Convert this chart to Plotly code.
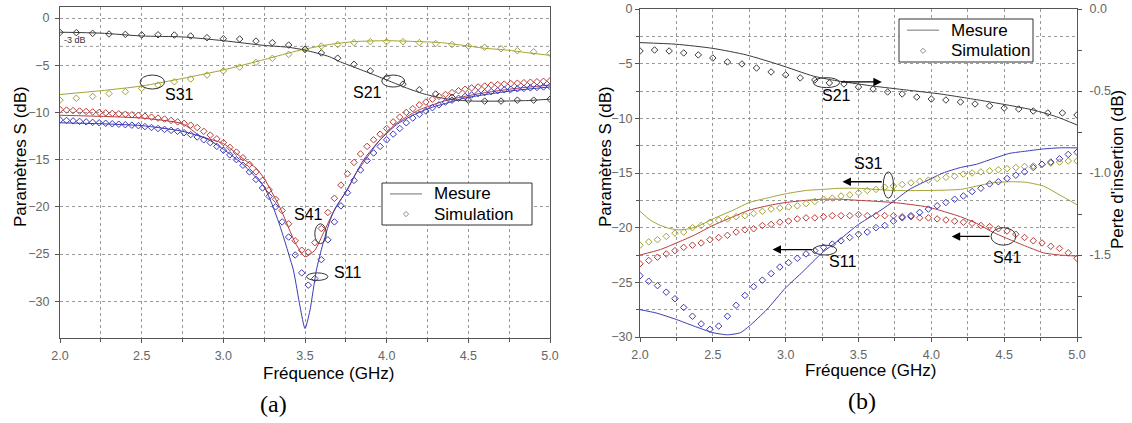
import numpy as np
import plotly.graph_objects as go

# ---------------- (a) data ----------------
fa_s11_meas = [2.0, 2.25, 2.5, 2.75, 2.9, 3.0, 3.12, 3.25, 3.3, 3.35, 3.4, 3.43, 3.47, 3.5, 3.53, 3.57, 3.61, 3.67, 3.76, 3.86, 3.96, 4.06, 4.16, 4.27, 4.37, 4.47, 4.57, 4.77, 5.0]
s11a_meas = [-11.1, -11.2, -11.4, -12.0, -12.8, -13.9, -15.5, -17.9, -19.8, -22.2, -25.0, -26.8, -30.6, -32.9, -31.0, -26.7, -23.9, -20.7, -18.1, -15.0, -12.9, -11.3, -10.3, -9.5, -9.0, -8.5, -8.2, -7.7, -7.3]

fa_s41_meas = [2.0, 2.5, 2.75, 2.86, 3.0, 3.12, 3.2, 3.25, 3.35, 3.44, 3.5, 3.56, 3.62, 3.69, 3.76, 3.81, 3.85, 3.95, 4.05, 4.19, 4.37, 4.57, 4.77, 5.0]
s41a_meas = [-10.3, -10.6, -11.2, -12.5, -13.3, -14.9, -15.9, -17.0, -20.2, -23.8, -25.3, -24.6, -22.5, -20.0, -18.2, -16.5, -15.5, -13.1, -11.3, -9.8, -8.7, -8.0, -7.5, -7.1]

fa_s21_meas = [2.0, 2.25, 2.5, 2.75, 3.0, 3.25, 3.4, 3.5, 3.65, 3.71, 3.8, 3.92, 4.02, 4.12, 4.22, 4.33, 4.43, 4.53, 4.7, 4.85, 5.0]
s21a_meas = [-1.5, -1.6, -1.9, -2.0, -2.4, -2.9, -3.1, -3.4, -4.1, -4.6, -5.2, -6.0, -6.7, -7.4, -8.0, -8.45, -8.7, -8.8, -8.8, -8.75, -8.6]

fa_s31_meas = [2.0, 2.25, 2.5, 2.75, 3.0, 3.25, 3.47, 3.65, 3.8, 4.0, 4.2, 4.33, 4.45, 4.6, 4.74, 4.85, 5.0]
s31a_meas = [-8.1, -7.7, -7.2, -6.4, -5.5, -4.4, -3.4, -2.8, -2.5, -2.4, -2.5, -2.6, -2.85, -3.2, -3.4, -3.65, -3.95]

fa_sim_coarse = np.round(np.linspace(2.0, 5.0, 31), 2)
s21a_sim = [-1.52, -1.55, -1.62, -1.69, -1.73, -1.8, -1.77, -1.8, -1.9, -2.08, -2.19, -2.22, -2.44, -2.61, -2.86, -3.3, -3.7, -4.25, -4.9, -5.6, -6.3, -7.0, -7.6, -8.05, -8.4, -8.7, -8.8, -8.8, -8.7, -8.7, -8.6]
s31a_sim = [-8.7, -8.5, -8.3, -8.0, -7.8, -7.45, -7.1, -6.75, -6.46, -6.04, -5.6, -5.2, -4.7, -4.27, -3.85, -3.35, -2.97, -2.8, -2.6, -2.5, -2.5, -2.5, -2.6, -2.7, -2.8, -2.97, -3.1, -3.25, -3.46, -3.57, -3.74]

fa_sim_fine = np.round(np.linspace(2.0, 5.0, 76), 2)
s41a_sim = [-9.7, -9.75, -9.8, -9.85, -9.9, -9.95, -10.0, -10.05, -10.1, -10.15, -10.2, -10.25, -10.3, -10.4, -10.5, -10.6, -10.7, -10.85, -11.0, -11.15,
            -11.35, -11.6, -12.0, -12.4, -12.8, -13.2, -13.7, -14.2, -14.8, -15.5, -16.3, -17.2, -18.2, -19.2, -20.4, -21.8, -23.6, -24.6, -24.8, -23.8,
            -22.3, -20.6, -19.1, -17.7, -16.5, -15.3, -14.4, -13.6, -12.9, -12.3, -11.7, -11.0, -10.5, -10.0, -9.6, -9.2, -8.9, -8.6, -8.3, -8.1,
            -7.9, -7.7, -7.55, -7.4, -7.3, -7.2, -7.1, -7.05, -7.0, -6.95, -6.9, -6.85, -6.8, -6.75, -6.7, -6.65]
s11a_sim = [-10.8, -10.85, -10.9, -10.95, -11.0, -11.05, -11.1, -11.15, -11.2, -11.25, -11.3, -11.35, -11.4, -11.5, -11.6, -11.7, -11.8, -11.9, -12.0, -12.15,
            -12.35, -12.6, -12.9, -13.2, -13.6, -14.0, -14.5, -15.0, -15.6, -16.3, -17.1, -18.0, -18.9, -20.0, -21.6, -23.2, -25.1, -27.0, -28.3, -27.6,
            -25.6, -23.5, -21.6, -19.9, -18.5, -17.2, -16.1, -15.1, -14.3, -13.6, -12.9, -12.3, -11.7, -11.1, -10.6, -10.2, -9.85, -9.5, -9.2, -8.9,
            -8.7, -8.5, -8.3, -8.15, -8.0, -7.9, -7.8, -7.7, -7.6, -7.55, -7.5, -7.45, -7.4, -7.35, -7.3, -7.25]

# ---------------- (b) data ----------------
fb_s11_meas = [2.0, 2.11, 2.25, 2.37, 2.5, 2.6, 2.69, 2.75, 2.87, 3.0, 3.12, 3.25, 3.37, 3.5, 3.62, 3.74, 3.85, 3.97, 4.08, 4.2, 4.31, 4.42, 4.54, 4.65, 4.77, 4.88, 5.0]
s11b_meas = [-27.5, -27.8, -28.4, -29.0, -29.6, -29.8, -29.6, -29.0, -27.5, -25.5, -24.0, -22.3, -21.1, -19.7, -18.7, -17.6, -16.5, -15.7, -15.0, -14.5, -14.2, -13.7, -13.2, -13.0, -12.8, -12.7, -12.7]

fb_s41_meas = [2.0, 2.14, 2.25, 2.37, 2.5, 2.64, 2.75, 2.91, 3.0, 3.14, 3.25, 3.37, 3.5, 3.74, 3.97, 4.08, 4.2, 4.31, 4.42, 4.54, 4.65, 4.77, 4.88, 5.0]
s41b_meas = [-22.5, -22.0, -21.4, -20.7, -19.8, -19.0, -18.4, -17.9, -17.7, -17.5, -17.4, -17.4, -17.5, -17.7, -18.1, -18.5, -19.0, -19.6, -20.4, -21.1, -21.7, -22.3, -22.5, -22.6]

fb_s31_meas = [2.0, 2.07, 2.14, 2.21, 2.27, 2.34, 2.41, 2.5, 2.64, 2.75, 2.87, 3.0, 3.14, 3.25, 3.37, 3.5, 3.74, 3.97, 4.2, 4.31, 4.42, 4.54, 4.65, 4.77, 4.88, 5.0]
s31b_meas = [-18.5, -19.3, -19.8, -20.1, -20.2, -20.1, -19.8, -19.2, -18.4, -17.7, -17.3, -16.9, -16.6, -16.5, -16.4, -16.4, -16.6, -16.6, -16.5, -16.2, -15.9, -15.8, -15.85, -16.2, -17.0, -17.9]

fb_s21_meas = [2.0, 2.25, 2.5, 2.73, 2.96, 3.19, 3.32, 3.39, 3.6, 3.83, 4.06, 4.29, 4.52, 4.7, 4.86, 5.0]
il21b_meas = [-0.205, -0.215, -0.24, -0.28, -0.341, -0.409, -0.433, -0.443, -0.47, -0.494, -0.518, -0.55, -0.585, -0.616, -0.657, -0.707]

fb_sim_coarse = np.round(np.linspace(2.0, 5.0, 31), 2)
il21b_sim = [-0.256, -0.25, -0.256, -0.268, -0.28, -0.299, -0.323, -0.335, -0.36, -0.384, -0.402, -0.42, -0.433, -0.451, -0.457, -0.476,
             -0.488, -0.506, -0.518, -0.537, -0.549, -0.555, -0.567, -0.579, -0.591, -0.604, -0.61, -0.622, -0.634, -0.634, -0.646]

fb_sim_fine = np.round(np.linspace(2.0, 5.0, 51), 2)
s31b_sim = [-21.6, -21.3, -21.1, -20.8, -20.5, -20.4, -20.0, -19.8, -19.5, -19.3, -19.2, -19.0, -18.9, -18.7, -18.5, -18.3, -18.2, -18.1, -18.0, -17.8,
            -17.6, -17.4, -17.3, -17.1, -17.0, -16.8, -16.6, -16.5, -16.3, -16.2, -16.05, -15.9, -15.75, -15.65, -15.5, -15.4, -15.3, -15.1, -15.0, -14.9,
            -14.8, -14.7, -14.6, -14.5, -14.4, -14.35, -14.2, -14.1, -14.0, -13.9, -13.9]
s41b_sim = [-23.3, -23.0, -22.7, -22.4, -22.1, -21.8, -21.6, -21.4, -21.1, -20.9, -20.7, -20.4, -20.2, -20.1, -19.8, -19.7, -19.5, -19.4, -19.2, -19.1,
            -19.1, -19.0, -18.9, -18.9, -18.9, -18.8, -18.9, -18.9, -18.9, -18.9, -19.0, -19.0, -19.1, -19.1, -19.2, -19.3, -19.4, -19.5, -19.6, -19.8,
            -19.9, -20.1, -20.3, -20.6, -20.9, -21.2, -21.4, -21.7, -21.9, -22.3, -22.8]
s11b_sim = [-24.4, -24.9, -25.3, -25.9, -26.5, -27.3, -28.1, -28.8, -29.3, -29.0, -28.1, -27.1, -26.2, -25.4, -24.8, -24.2, -23.6, -23.2, -22.8, -22.4,
            -22.1, -21.8, -21.5, -21.2, -20.9, -20.6, -20.4, -20.0, -19.8, -19.4, -19.1, -18.9, -18.6, -18.3, -18.0, -17.7, -17.4, -17.1, -16.7, -16.4,
            -16.0, -15.8, -15.5, -15.2, -14.9, -14.5, -14.2, -14.0, -13.7, -13.3, -13.1]

legend_labels = ["Mesure", "Simulation"]

# ---------------- styling ----------------
C_BLK = "#3a3a3a"
C_OLV = "#a3a336"
C_RED = "#b83a3a"
C_BLU = "#3a3ab8"
C_LEG = "#8a8a8a"
FONT = "Liberation Sans, Arial, sans-serif"
GRID = "#9a9a9a"
AX = "#555555"

fig = go.Figure()


def add_line(x, y, color, xa, ya):
    fig.add_trace(go.Scatter(x=x, y=y, mode="lines", xaxis=xa, yaxis=ya, showlegend=False,
                             line=dict(color=color, width=1, shape="spline", smoothing=0.6), hoverinfo="skip"))


def add_pts(x, y, color, xa, ya):
    fig.add_trace(go.Scatter(x=x, y=y, mode="markers", xaxis=xa, yaxis=ya, showlegend=False,
                             marker=dict(symbol="diamond-open", size=5, color=color, line=dict(width=1, color=color)),
                             hoverinfo="skip"))


# (a)
add_line(fa_s31_meas, s31a_meas, C_OLV, "x", "y")
add_line(fa_s21_meas, s21a_meas, C_BLK, "x", "y")
add_line(fa_s41_meas, s41a_meas, C_RED, "x", "y")
add_line(fa_s11_meas, s11a_meas, C_BLU, "x", "y")
add_pts(fa_sim_coarse, s31a_sim, C_OLV, "x", "y")
add_pts(fa_sim_coarse, s21a_sim, C_BLK, "x", "y")
add_pts(fa_sim_fine, s41a_sim, C_RED, "x", "y")
add_pts(fa_sim_fine, s11a_sim, C_BLU, "x", "y")

# (b)
add_line(fb_s31_meas, s31b_meas, C_OLV, "x2", "y2")
add_line(fb_s41_meas, s41b_meas, C_RED, "x2", "y2")
add_line(fb_s11_meas, s11b_meas, C_BLU, "x2", "y2")
add_line(fb_s21_meas, il21b_meas, C_BLK, "x2", "y3")
add_pts(fb_sim_fine, s31b_sim, C_OLV, "x2", "y2")
add_pts(fb_sim_fine, s41b_sim, C_RED, "x2", "y2")
add_pts(fb_sim_fine, s11b_sim, C_BLU, "x2", "y2")
add_pts(fb_sim_coarse, il21b_sim, C_BLK, "x2", "y3")

W, H = 1132, 423


def px_x(p):
    return p / W


def px_y(p):
    return (H - p) / H


tickfont = dict(family=FONT, size=12.5, color="#666666")

xcommon = dict(range=[2, 5], tick0=2, dtick=0.5, tickformat=".1f", ticks="outside", ticklen=4, tickcolor=AX,
               showgrid=True, gridcolor=GRID, griddash="dot", gridwidth=1,
               minor=dict(dtick=0.25, ticks="outside", ticklen=3, tickcolor=AX, showgrid=True, gridcolor=GRID, griddash="dot"),
               showline=True, linecolor=AX, linewidth=1, mirror=True, zeroline=False, tickfont=tickfont, fixedrange=True,
               automargin=False, ticklabelstandoff=2)

fig.update_layout(
    width=W, height=H, margin=dict(l=0, r=0, t=0, b=0, autoexpand=False),
    paper_bgcolor="white", plot_bgcolor="white",
    font=dict(family=FONT, color="black"),
    showlegend=False,
    xaxis=dict(domain=[px_x(60), px_x(550)], anchor="y", **xcommon),
    yaxis=dict(domain=[px_y(338), px_y(7)], anchor="x", range=[-33.9, 1.17], tick0=0, dtick=5, ticks="outside", ticklen=4,
               tickcolor=AX, showgrid=True, gridcolor=GRID, griddash="dot", showline=True, linecolor=AX, mirror=True,
               zeroline=False, tickfont=tickfont, ticklabelstandoff=3, fixedrange=True, automargin=False),
    xaxis2=dict(domain=[px_x(640), px_x(1077)], anchor="y2", **xcommon),
    yaxis2=dict(domain=[px_y(337), px_y(9)], anchor="x2", range=[-30, 0], tick0=0, dtick=5, ticks="outside", ticklen=4,
                tickcolor=AX, showgrid=True, gridcolor=GRID, griddash="dot",
                minor=dict(dtick=2.5, ticks="outside", ticklen=3, tickcolor=AX, showgrid=True, gridcolor=GRID, griddash="dot"),
                showline=True, linecolor=AX, mirror=False, zeroline=False, tickfont=tickfont, fixedrange=True, automargin=False),
    yaxis3=dict(overlaying="y2", side="right", anchor="x2", range=[-2, 0], tickvals=[0, -0.5, -1.0, -1.5],
                ticktext=["0.0", "-0.5", "-1.0", "-1.5"], ticks="outside", ticklen=4, tickcolor=AX,
                minor=dict(tickvals=[-0.25, -0.75, -1.25, -1.75, -2.0], ticks="outside", ticklen=4, tickcolor=AX, showgrid=False),
                showgrid=False, showline=True, linecolor=AX, zeroline=False, tickfont=tickfont, ticklabelstandoff=5,
                fixedrange=True, automargin=False),
)

# -3 dB reference line (a)
fig.add_shape(type="line", xref="x", yref="y", x0=2, x1=5, y0=-3, y1=-3, line=dict(color=GRID, width=1, dash="dot"), layer="below")

# ellipses (a)
ell_a = [(2.49, 2.64, -6.04, -7.52), (3.97, 4.11, -6.04, -7.31), (3.56, 3.63, -21.8, -23.9), (3.51, 3.64, -27.0, -27.8)]
for x0, x1, y0, y1 in ell_a:
    fig.add_shape(type="circle", xref="x", yref="y", x0=x0, x1=x1, y0=y0, y1=y1, line=dict(color="#333", width=1))
# ellipses (b)
ell_b = [(3.19, 3.37, -6.28, -7.19), (3.67, 3.74, -14.9, -17.3), (3.19, 3.35, -21.6, -22.5), (4.41, 4.58, -20.0, -21.6)]
for x0, x1, y0, y1 in ell_b:
    fig.add_shape(type="circle", xref="x2", yref="y2", x0=x0, x1=x1, y0=y0, y1=y1, line=dict(color="#333", width=1))

lab = dict(family=FONT, size=16, color="black")
ann = []
for x, y, t in [(2.73, -8.1, "S31"), (3.88, -7.94, "S21"), (3.52, -20.8, "S41"), (3.76, -27.0, "S11")]:
    ann.append(dict(x=x, y=y, xref="x", yref="y", text=t, showarrow=False, font=lab))
for x, y, t in [(3.35, -7.95, "S21"), (3.57, -14.17, "S31"), (3.39, -23.1, "S11"), (4.52, -22.7, "S41")]:
    ann.append(dict(x=x, y=y, xref="x2", yref="y2", text=t, showarrow=False, font=lab))
ann.append(dict(x=2.012, y=-2.35, xref="x", yref="y", text="-3 dB", showarrow=False, xanchor="left",
                font=dict(family=FONT, size=9, color="#333")))
# arrows (b): (head_x, tail_x, y)
for hx, tx, yy in [(3.66, 3.37, -6.67), (3.39, 3.67, -15.8), (2.91, 3.19, -22.0), (4.14, 4.41, -20.8)]:
    ann.append(dict(x=hx, y=yy, ax=tx, ay=yy, xref="x2", yref="y2", axref="x2", ayref="y2", text="", showarrow=True,
                    arrowhead=2, arrowsize=1.3, arrowwidth=1.3, arrowcolor="black"))


def pann(xp, yp, text, font, angle=0, xanchor="center"):
    return dict(x=px_x(xp), y=px_y(yp), xref="paper", yref="paper", text=text, showarrow=False, font=font,
                textangle=angle, xanchor=xanchor, yanchor="middle")


tfont = dict(family=FONT, size=17, color="black")
sfont = dict(family="Liberation Serif, Times New Roman, serif", size=24, color="black")
ann += [
    pann(328, 373, "Fréquence (GHz)", tfont),
    pann(870, 370, "Fréquence (GHz)", tfont),
    pann(20, 157, "Paramètres S (dB)", tfont, -90),
    pann(605, 157, "Paramètres S (dB)", tfont, -90),
    pann(1117, 170, "Perte d'insertion (dB)", tfont, -90),
    pann(273, 404, "(a)", sfont),
    pann(862, 401, "(b)", sfont),
]

# manual legends (pixel layout: box x0, x1, y0, y1)
lfont = dict(family=FONT, size=17, color="black")
for bx0, bx1, by0, by1 in [(382, 532, 183, 225), (899, 1033, 19, 62)]:
    fig.add_shape(type="rect", xref="paper", yref="paper", x0=px_x(bx0), x1=px_x(bx1), y0=px_y(by1), y1=px_y(by0),
                  line=dict(color="#333", width=1), fillcolor="white", layer="above")
    r1 = by0 + 0.26 * (by1 - by0)
    r2 = by0 + 0.74 * (by1 - by0)
    fig.add_shape(type="line", xref="paper", yref="paper", x0=px_x(bx0 + 8), x1=px_x(bx0 + 40), y0=px_y(r1), y1=px_y(r1),
                  line=dict(color=C_LEG, width=1.2), layer="above")
    cx, d = bx0 + 24, 2.6
    fig.add_shape(type="path", xref="paper", yref="paper", layer="above",
                  path=f"M {px_x(cx)},{px_y(r2 - d)} L {px_x(cx + d)},{px_y(r2)} L {px_x(cx)},{px_y(r2 + d)} L {px_x(cx - d)},{px_y(r2)} Z",
                  line=dict(color=C_LEG, width=1))
    ann.append(pann(bx0 + 50, r1, legend_labels[0], lfont, xanchor="left"))
    ann.append(pann(bx0 + 50, r2, legend_labels[1], lfont, xanchor="left"))

fig.update_layout(annotations=ann)

fig.write_html("out.html", config={"displayModeBar": False, "staticPlot": True},
               post_script="document.body.style.margin='0';document.body.style.padding='0';document.body.style.overflow='hidden';")
